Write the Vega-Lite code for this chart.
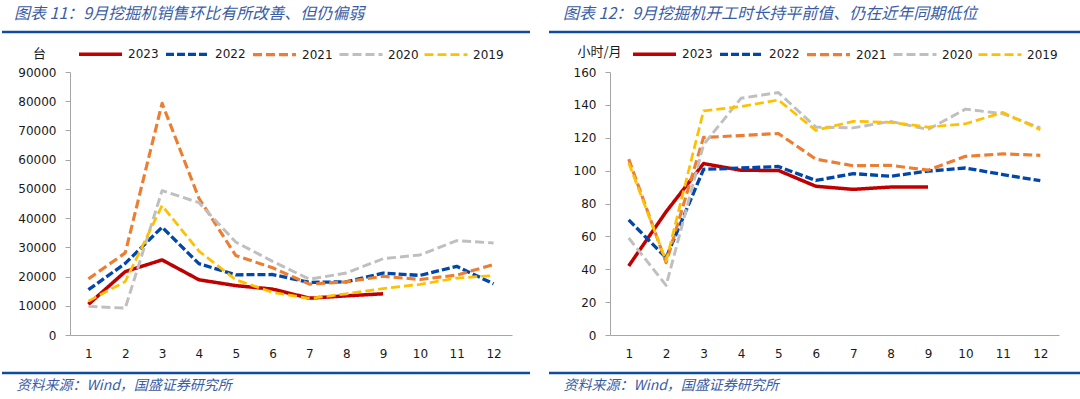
{
  "$schema": "https://vega.github.io/schema/vega-lite/v6.json",
  "autosize": {"type": "pad"},
  "padding": {"left": 0, "top": 6, "right": 2, "bottom": 0},
  "background": "white",
  "spacing": 98,
  "bounds": "flush",
  "config": {
    "view": {"stroke": null},
    "axis": {
      "grid": false,
      "domainColor": "#A6A6A6",
      "domainWidth": 1,
      "tickColor": "#A6A6A6",
      "labelFont": "DejaVu Sans",
      "labelFontSize": 12,
      "labelColor": "#1a1a1a",
      "titleFontWeight": "normal"
    },
    "axisX": {"labelAngle": 0, "ticks": false, "tickSize": 0, "labelPadding": 13},
    "axisY": {"ticks": true, "tickSize": 5, "labelPadding": 9},
    "legend": {
      "orient": "none",
      "direction": "horizontal",
      "symbolType": "stroke",
      "symbolSize": 1849,
      "labelFont": "DejaVu Sans",
      "labelFontSize": 12,
      "labelColor": "#1a1a1a",
      "labelOffset": 4,
      "columnPadding": 0,
      "padding": 0
    }
  },
  "datasets": {
    "sales": [
      {"m": 1, "y": "2023", "v": 10500}, {"m": 2, "y": "2023", "v": 21700}, {"m": 3, "y": "2023", "v": 25700}, {"m": 4, "y": "2023", "v": 18900}, {"m": 5, "y": "2023", "v": 16900}, {"m": 6, "y": "2023", "v": 15700}, {"m": 7, "y": "2023", "v": 12600}, {"m": 8, "y": "2023", "v": 13400}, {"m": 9, "y": "2023", "v": 14100},
      {"m": 1, "y": "2022", "v": 15500}, {"m": 2, "y": "2022", "v": 24500}, {"m": 3, "y": "2022", "v": 36900}, {"m": 4, "y": "2022", "v": 24400}, {"m": 5, "y": "2022", "v": 20600}, {"m": 6, "y": "2022", "v": 20700}, {"m": 7, "y": "2022", "v": 18000}, {"m": 8, "y": "2022", "v": 18200}, {"m": 9, "y": "2022", "v": 21200}, {"m": 10, "y": "2022", "v": 20400}, {"m": 11, "y": "2022", "v": 23500}, {"m": 12, "y": "2022", "v": 17500},
      {"m": 1, "y": "2021", "v": 19200}, {"m": 2, "y": "2021", "v": 28100}, {"m": 3, "y": "2021", "v": 79300}, {"m": 4, "y": "2021", "v": 46800}, {"m": 5, "y": "2021", "v": 27200}, {"m": 6, "y": "2021", "v": 23000}, {"m": 7, "y": "2021", "v": 17400}, {"m": 8, "y": "2021", "v": 18200}, {"m": 9, "y": "2021", "v": 20100}, {"m": 10, "y": "2021", "v": 19000}, {"m": 11, "y": "2021", "v": 20500}, {"m": 12, "y": "2021", "v": 24100},
      {"m": 1, "y": "2020", "v": 9800}, {"m": 2, "y": "2020", "v": 9200}, {"m": 3, "y": "2020", "v": 49400}, {"m": 4, "y": "2020", "v": 45300}, {"m": 5, "y": "2020", "v": 31800}, {"m": 6, "y": "2020", "v": 25200}, {"m": 7, "y": "2020", "v": 19100}, {"m": 8, "y": "2020", "v": 21200}, {"m": 9, "y": "2020", "v": 26100}, {"m": 10, "y": "2020", "v": 27400}, {"m": 11, "y": "2020", "v": 32300}, {"m": 12, "y": "2020", "v": 31500},
      {"m": 1, "y": "2019", "v": 11600}, {"m": 2, "y": "2019", "v": 18300}, {"m": 3, "y": "2019", "v": 44300}, {"m": 4, "y": "2019", "v": 28700}, {"m": 5, "y": "2019", "v": 18900}, {"m": 6, "y": "2019", "v": 14600}, {"m": 7, "y": "2019", "v": 12500}, {"m": 8, "y": "2019", "v": 14100}, {"m": 9, "y": "2019", "v": 15900}, {"m": 10, "y": "2019", "v": 17300}, {"m": 11, "y": "2019", "v": 19500}, {"m": 12, "y": "2019", "v": 20300}
    ],
    "hours": [
      {"m": 1, "y": "2023", "v": 42}, {"m": 2, "y": "2023", "v": 75}, {"m": 3, "y": "2023", "v": 104.3}, {"m": 4, "y": "2023", "v": 100.2}, {"m": 5, "y": "2023", "v": 100.1}, {"m": 6, "y": "2023", "v": 90.5}, {"m": 7, "y": "2023", "v": 88.6}, {"m": 8, "y": "2023", "v": 90}, {"m": 9, "y": "2023", "v": 90},
      {"m": 1, "y": "2022", "v": 70}, {"m": 2, "y": "2022", "v": 47}, {"m": 3, "y": "2022", "v": 100.8}, {"m": 4, "y": "2022", "v": 101.6}, {"m": 5, "y": "2022", "v": 102.5}, {"m": 6, "y": "2022", "v": 94}, {"m": 7, "y": "2022", "v": 98.2}, {"m": 8, "y": "2022", "v": 96.6}, {"m": 9, "y": "2022", "v": 99.7}, {"m": 10, "y": "2022", "v": 101.6}, {"m": 11, "y": "2022", "v": 97.6}, {"m": 12, "y": "2022", "v": 93.9},
      {"m": 1, "y": "2021", "v": 107}, {"m": 2, "y": "2021", "v": 44}, {"m": 3, "y": "2021", "v": 120.2}, {"m": 4, "y": "2021", "v": 121.3}, {"m": 5, "y": "2021", "v": 122.6}, {"m": 6, "y": "2021", "v": 107}, {"m": 7, "y": "2021", "v": 103}, {"m": 8, "y": "2021", "v": 103.2}, {"m": 9, "y": "2021", "v": 100.3}, {"m": 10, "y": "2021", "v": 108.7}, {"m": 11, "y": "2021", "v": 110.2}, {"m": 12, "y": "2021", "v": 109.3},
      {"m": 1, "y": "2020", "v": 59}, {"m": 2, "y": "2020", "v": 30.2}, {"m": 3, "y": "2020", "v": 115.8}, {"m": 4, "y": "2020", "v": 144}, {"m": 5, "y": "2020", "v": 147.5}, {"m": 6, "y": "2020", "v": 126.5}, {"m": 7, "y": "2020", "v": 126}, {"m": 8, "y": "2020", "v": 130}, {"m": 9, "y": "2020", "v": 125}, {"m": 10, "y": "2020", "v": 137.4}, {"m": 11, "y": "2020", "v": 134.6}, {"m": 12, "y": "2020", "v": 126},
      {"m": 1, "y": "2019", "v": 104.7}, {"m": 2, "y": "2019", "v": 44.9}, {"m": 3, "y": "2019", "v": 136.4}, {"m": 4, "y": "2019", "v": 139}, {"m": 5, "y": "2019", "v": 143}, {"m": 6, "y": "2019", "v": 124.5}, {"m": 7, "y": "2019", "v": 130}, {"m": 8, "y": "2019", "v": 129.4}, {"m": 9, "y": "2019", "v": 126.5}, {"m": 10, "y": "2019", "v": 128.5}, {"m": 11, "y": "2019", "v": 135.4}, {"m": 12, "y": "2019", "v": 124.9}
    ]
  },
  "hconcat": [
    {
      "width": 442,
      "height": 263,
      "layer": [
        {
          "data": {"name": "sales"},
          "mark": {"type": "line", "strokeJoin": "round"},
          "encoding": {
            "x": {
              "field": "m", "type": "ordinal",
              "scale": {"type": "point", "padding": 0.5},
              "axis": {
                "title": "资料来源：Wind，国盛证券研究所",
                "titleX": -54, "titleY": 50, "titleAlign": "left", "titleBaseline": "middle",
                "titleFont": "Noto Sans CJK SC", "titleFontSize": 14, "titleFontStyle": "italic", "titleColor": "#3A5CA6"
              }
            },
            "y": {
              "field": "v", "type": "quantitative",
              "scale": {"domain": [0, 90000]},
              "axis": {
                "values": [0, 10000, 20000, 30000, 40000, 50000, 60000, 70000, 80000, 90000],
                "format": "d",
                "title": "台", "titleAngle": 0, "titleX": -31, "titleY": -19, "titleAlign": "center", "titleBaseline": "middle",
                "titleFont": "Noto Sans CJK SC", "titleFontSize": 13, "titleColor": "#1a1a1a"
              }
            },
            "color": {
              "field": "y", "type": "nominal",
              "scale": {"domain": ["2023", "2022", "2021", "2020", "2019"], "range": ["#C00000", "#0047AB", "#ED7D31", "#BFBFBF", "#FFC000"]},
              "legend": {"title": null, "legendX": 7, "legendY": -41.5}
            },
            "strokeDash": {
              "field": "y", "type": "nominal",
              "scale": {"domain": ["2023", "2022", "2021", "2020", "2019"], "range": [[1, 0], [8, 3], [9, 4], [9, 4], [9, 4]]},
              "legend": {"title": null, "legendX": 7, "legendY": -41.5}
            },
            "strokeWidth": {
              "field": "y", "type": "nominal",
              "scale": {"domain": ["2023", "2022", "2021", "2020", "2019"], "range": [3.5, 2.75, 2.75, 2.75, 2.75]},
              "legend": {"title": null, "legendX": 7, "legendY": -41.5}
            }
          }
        },
        {
          "data": {"values": [{"t": "图表 11：9月挖掘机销售环比有所改善、但仍偏弱"}]},
          "mark": {"type": "text", "align": "left", "baseline": "middle", "font": "Noto Sans CJK SC", "fontSize": 16, "fontStyle": "italic", "color": "#3A5CA6"},
          "encoding": {"text": {"field": "t"}, "x": {"value": -56}, "y": {"value": -58}}
        },
        {
          "data": {"values": [{"k": "top"}]},
          "mark": {"type": "rule", "color": "#0F4C9E", "strokeWidth": 2.5},
          "encoding": {"x": {"value": -68}, "x2": {"value": 460}, "y": {"value": -40}}
        },
        {
          "data": {"values": [{"k": "bottom"}]},
          "mark": {"type": "rule", "color": "#0F4C9E", "strokeWidth": 2.5},
          "encoding": {"x": {"value": -68}, "x2": {"value": 460}, "y": {"value": 301}}
        }
      ]
    },
    {
      "width": 449,
      "height": 263,
      "layer": [
        {
          "data": {"name": "hours"},
          "mark": {"type": "line", "strokeJoin": "round"},
          "encoding": {
            "x": {
              "field": "m", "type": "ordinal",
              "scale": {"type": "point", "padding": 0.5},
              "axis": {
                "title": "资料来源：Wind，国盛证券研究所",
                "titleX": -47, "titleY": 50, "titleAlign": "left", "titleBaseline": "middle",
                "titleFont": "Noto Sans CJK SC", "titleFontSize": 14, "titleFontStyle": "italic", "titleColor": "#3A5CA6"
              }
            },
            "y": {
              "field": "v", "type": "quantitative",
              "scale": {"domain": [0, 160]},
              "axis": {
                "values": [0, 20, 40, 60, 80, 100, 120, 140, 160],
                "title": "小时/月", "titleAngle": 0, "titleX": -11, "titleY": -21, "titleAlign": "center", "titleBaseline": "middle",
                "titleFont": "Noto Sans CJK SC", "titleFontSize": 13, "titleColor": "#1a1a1a"
              }
            },
            "color": {
              "field": "y", "type": "nominal",
              "scale": {"domain": ["2023", "2022", "2021", "2020", "2019"], "range": ["#C00000", "#0047AB", "#ED7D31", "#BFBFBF", "#FFC000"]},
              "legend": {"title": null, "legendX": 21, "legendY": -41.5}
            },
            "strokeDash": {
              "field": "y", "type": "nominal",
              "scale": {"domain": ["2023", "2022", "2021", "2020", "2019"], "range": [[1, 0], [8, 3], [9, 4], [9, 4], [9, 4]]},
              "legend": {"title": null, "legendX": 21, "legendY": -41.5}
            },
            "strokeWidth": {
              "field": "y", "type": "nominal",
              "scale": {"domain": ["2023", "2022", "2021", "2020", "2019"], "range": [3.5, 2.75, 2.75, 2.75, 2.75]},
              "legend": {"title": null, "legendX": 21, "legendY": -41.5}
            }
          }
        },
        {
          "data": {"values": [{"t": "图表 12：9月挖掘机开工时长持平前值、仍在近年同期低位"}]},
          "mark": {"type": "text", "align": "left", "baseline": "middle", "font": "Noto Sans CJK SC", "fontSize": 16, "fontStyle": "italic", "color": "#3A5CA6"},
          "encoding": {"text": {"field": "t"}, "x": {"value": -47}, "y": {"value": -58}}
        },
        {
          "data": {"values": [{"k": "top"}]},
          "mark": {"type": "rule", "color": "#0F4C9E", "strokeWidth": 2.5},
          "encoding": {"x": {"value": -61}, "x2": {"value": 470}, "y": {"value": -40}}
        },
        {
          "data": {"values": [{"k": "bottom"}]},
          "mark": {"type": "rule", "color": "#0F4C9E", "strokeWidth": 2.5},
          "encoding": {"x": {"value": -61}, "x2": {"value": 470}, "y": {"value": 301}}
        }
      ]
    }
  ],
  "resolve": {"scale": {"color": "independent", "strokeDash": "independent", "strokeWidth": "independent"}, "legend": {"color": "independent", "strokeDash": "independent", "strokeWidth": "independent"}}
}
